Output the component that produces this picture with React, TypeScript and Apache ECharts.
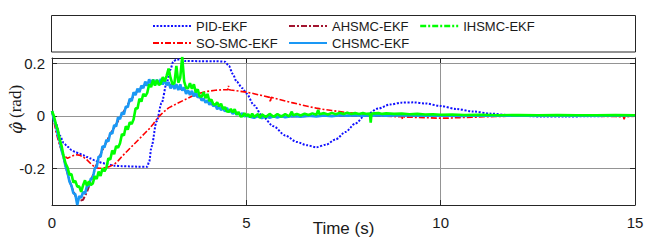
import React, { useEffect, useRef } from "react";
import * as echarts from "echarts";

// ---------- data ----------
const SERIES_NAMES = ["PID-EKF", "SO-SMC-EKF", "AHSMC-EKF", "CHSMC-EKF", "IHSMC-EKF"];
const X_MIN = 0;
const X_MAX = 15;
const X_INTERVAL = 5;
const Y_MIN = -0.34;
const Y_MAX = 0.22;
const Y_STEP = 0.2;

const pid: number[][] = [
  [0, 0.018], [0.1, -0.03], [0.2, -0.075], [0.3, -0.103], [0.4, -0.118], [0.5, -0.13], [0.6, -0.138],
  [0.7, -0.144], [0.8, -0.15], [0.9, -0.157], [1.0, -0.163], [1.1, -0.17], [1.2, -0.176], [1.3, -0.18],
  [1.4, -0.184], [1.6, -0.19], [1.8, -0.192], [2.0, -0.193], [2.2, -0.194], [2.45, -0.194], [2.5, -0.175],
  [2.56, -0.118], [2.69, -0.022], [2.82, 0.048], [2.95, 0.124], [3.04, 0.174], [3.12, 0.206], [3.2, 0.214],
  [3.35, 0.214], [3.42, 0.209], [3.8, 0.208], [4.2, 0.208], [4.45, 0.206], [4.55, 0.19], [4.65, 0.16],
  [4.75, 0.13], [4.9, 0.105], [5.0, 0.085], [5.2, 0.04], [5.4, 0.0], [5.7, -0.04], [6.0, -0.075],
  [6.3, -0.1], [6.55, -0.112], [6.8, -0.12], [7.05, -0.11], [7.3, -0.09], [7.55, -0.062], [7.8, -0.03],
  [8.05, 0.0], [8.4, 0.028], [8.7, 0.043], [9.0, 0.05], [9.3, 0.051], [9.6, 0.047], [10.0, 0.037],
  [10.4, 0.026], [10.84, 0.016], [11.3, 0.008], [11.7, 0.003], [12.2, -0.001], [12.6, -0.003],
  [13.2, -0.003], [13.8, -0.002], [14.4, -0.001], [15, 0.0],
];

const soSmc: number[][] = [
  [0, 0.018], [0.1, -0.06], [0.2, -0.115], [0.3, -0.15], [0.4, -0.162], [0.5, -0.155], [0.6, -0.148],
  [0.7, -0.15], [0.8, -0.156], [0.9, -0.168], [1.0, -0.183], [1.1, -0.195], [1.2, -0.2], [1.3, -0.2],
  [1.4, -0.197], [1.5, -0.192], [1.6, -0.185], [1.7, -0.172], [1.8, -0.155], [1.9, -0.14], [2.0, -0.125],
  [2.1, -0.11], [2.2, -0.095], [2.3, -0.08], [2.4, -0.065], [2.5, -0.05], [2.6, -0.032], [2.7, -0.012],
  [2.8, 0.004], [2.9, 0.018], [3.0, 0.03], [3.2, 0.045], [3.4, 0.06], [3.6, 0.074], [3.8, 0.086],
  [4.0, 0.093], [4.2, 0.097], [4.4, 0.099], [4.52, 0.099], [4.54, 0.114], [4.56, 0.099], [4.6, 0.098],
  [4.8, 0.094], [5.0, 0.09], [5.2, 0.084], [5.4, 0.077], [5.6, 0.07], [5.62, 0.052], [5.64, 0.07],
  [5.8, 0.064], [6.0, 0.056], [6.2, 0.049], [6.4, 0.042], [6.6, 0.035], [6.8, 0.029], [7.0, 0.024],
  [7.2, 0.02], [7.4, 0.016], [7.6, 0.012], [7.8, 0.009], [8.0, 0.006], [8.2, 0.003], [8.4, 0.0],
  [8.6, -0.002], [8.8, -0.003], [9.0, -0.004], [9.02, -0.013], [9.04, -0.005], [9.3, -0.006],
  [9.6, -0.007], [9.9, -0.009], [10.2, -0.009], [10.5, -0.007], [10.8, -0.006], [11.1, -0.004],
  [11.4, -0.003], [11.7, -0.002], [12.0, -0.001], [12.5, 0.0], [13.0, -0.001], [13.5, -0.001],
  [14.0, -0.002], [14.5, -0.003], [14.7, -0.004], [14.72, -0.013], [14.74, -0.004], [15, -0.002],
];

const ahsmc: number[][] = [
  [0, 0.018], [0.1, -0.04], [0.2, -0.1], [0.3, -0.16], [0.4, -0.22], [0.5, -0.27], [0.6, -0.305],
  [0.7, -0.325], [0.8, -0.32], [0.9, -0.29], [1.0, -0.25], [1.1, -0.205], [1.2, -0.165], [1.3, -0.13],
  [1.4, -0.1], [1.5, -0.07], [1.6, -0.045], [1.7, -0.02], [1.8, 0.005], [1.9, 0.03], [2.0, 0.055],
  [2.2, 0.095], [2.4, 0.118], [2.6, 0.128], [2.8, 0.128], [3.0, 0.12], [3.2, 0.11], [3.4, 0.098],
  [3.6, 0.085], [3.8, 0.07], [4.0, 0.052], [4.2, 0.037], [4.4, 0.025], [4.6, 0.015], [4.8, 0.007],
  [5.0, 0.0], [5.5, -0.004], [6, -0.003], [7, 0.0], [8, 0.001], [10, 0.0], [15, 0.0],
];

// noisy traces: samples every 0.05 s from 0 to 5 s
const EARLY_STEP = 0.05;
const chsmcEarly: number[] = [
  0.018, -0.015, -0.036, -0.072, -0.098, -0.134, -0.158, -0.193, -0.217, -0.251,
  -0.266, -0.295, -0.299, -0.34, -0.306, -0.313, -0.29, -0.297, -0.267, -0.267,
  -0.239, -0.238, -0.2, -0.195, -0.155, -0.156, -0.116, -0.121, -0.092, -0.098,
  -0.065, -0.068, -0.035, -0.041, -0.006, -0.013, 0.013, 0.005, 0.035, 0.033,
  0.065, 0.056, 0.089, 0.079, 0.103, 0.09, 0.115, 0.105, 0.13, 0.114,
  0.139, 0.122, 0.138, 0.118, 0.137, 0.121, 0.14, 0.119, 0.139, 0.116,
  0.128, 0.104, 0.12, 0.102, 0.12, 0.098, 0.119, 0.096, 0.108, 0.083,
  0.097, 0.079, 0.095, 0.073, 0.092, 0.069, 0.078, 0.058, 0.066, 0.05,
  0.059, 0.042, 0.054, 0.036, 0.043, 0.025, 0.035, 0.021, 0.032, 0.016,
  0.03, 0.015, 0.019, 0.007, 0.014, 0.004, 0.012, 0.001, 0.01, -0.002,
  0.0,
];
const chsmcLate: number[][] = [
  [5.1, -0.004], [5.2, -0.008], [5.3, -0.001], [5.4, -0.009], [5.5, -0.002], [5.6, -0.008],
  [5.7, -0.002], [5.8, -0.007], [5.9, -0.001], [6.0, -0.006], [6.2, -0.001], [6.4, -0.004],
  [6.6, 0.0], [6.8, -0.003], [7.0, 0.001], [7.2, -0.002], [7.4, 0.002], [7.6, 0.0], [7.8, 0.002],
  [8.0, 0.0], [8.3, 0.002], [8.6, 0.0], [9.0, 0.002], [9.5, 0.0], [10, 0.001], [10.5, -0.001],
  [11, 0.001], [12, 0.0], [13, 0.001], [14, 0.0], [15, 0.001],
];

const ihsmcEarly: number[] = [
  0.018, -0.002, -0.032, -0.054, -0.091, -0.117, -0.155, -0.182, -0.197, -0.225,
  -0.222, -0.254, -0.248, -0.27, -0.269, -0.29, -0.265, -0.246, -0.267, -0.25,
  -0.264, -0.258, -0.23, -0.241, -0.213, -0.229, -0.2, -0.212, -0.198, -0.162,
  -0.167, -0.132, -0.146, -0.115, -0.122, -0.105, -0.07, -0.075, -0.04, -0.053,
  -0.025, -0.032, -0.013, 0.028, 0.028, 0.065, 0.054, 0.084, 0.074, 0.087,
  0.12, 0.109, 0.137, 0.115, 0.136, 0.117, 0.122, 0.147, 0.131, 0.153,
  0.18, 0.144, 0.121, 0.123, 0.19, 0.126, 0.145, 0.225, 0.131, 0.106,
  0.105, 0.124, 0.103, 0.12, 0.089, 0.101, 0.074, 0.072, 0.09, 0.067,
  0.083, 0.056, 0.062, 0.044, 0.042, 0.051, 0.036, 0.046, 0.025, 0.033,
  0.016, 0.015, 0.026, 0.013, 0.025, 0.005, 0.014, -0.003, -0.002, 0.01,
  -0.001,
];
const ihsmcLate: number[][] = [
  [5.05, 0.006], [5.1, -0.006], [5.15, 0.008], [5.2, -0.004], [5.3, 0.006], [5.35, -0.008],
  [5.4, 0.005], [5.5, -0.005], [5.6, 0.007], [5.7, -0.004], [5.8, 0.006], [5.9, -0.003],
  [6.0, 0.006], [6.1, -0.002], [6.17, 0.016], [6.2, 0.002], [6.3, 0.007], [6.4, 0.001],
  [6.5, 0.008], [6.6, 0.003], [6.7, 0.009], [6.8, 0.004], [6.85, 0.022], [6.88, 0.006],
  [7.0, 0.01], [7.1, 0.005], [7.2, 0.011], [7.3, 0.006], [7.4, 0.011], [7.5, 0.007],
  [7.6, 0.011], [7.7, 0.007], [7.8, 0.01], [7.9, 0.007], [8.0, 0.01], [8.1, 0.007],
  [8.18, 0.008], [8.2, -0.026], [8.22, 0.008], [8.4, 0.01], [8.5, 0.007], [8.6, 0.009],
  [8.8, 0.007], [9.0, 0.008], [9.2, 0.006], [9.4, 0.007], [9.6, 0.005], [9.8, 0.006],
  [10.0, 0.004], [10.3, 0.005], [10.6, 0.003], [11.0, 0.004], [11.5, 0.002], [12, 0.003],
  [12.5, 0.002], [13, 0.003], [13.5, 0.002], [14, 0.002], [14.5, 0.003], [15, 0.002],
];

const toPairs = (vals: number[], step: number) =>
  vals.map((v, i) => [Math.round(i * step * 1000) / 1000, v]);

const COLORS = {
  pid: "#1010ff",
  so: "#ff0000",
  ah: "#a2142f",
  ch: "#1a98f5",
  ih: "#00ff00",
};

const FONT = "'Liberation Sans', Arial, Helvetica, sans-serif";
const SERIF = "'Liberation Serif', 'Times New Roman', serif";
const TEXT = "#1a1a1a";

export default function App() {
  const ref = useRef<HTMLDivElement>(null);

  useEffect(() => {
    document.body.style.margin = "0";
    if (!ref.current) return;
    const chart = echarts.init(ref.current, undefined, { renderer: "svg" });

    const dashDot = [6, 2, 2, 2];

    const legendPos: Record<string, [number, number]> = {
      "PID-EKF": [152, 19],
      "AHSMC-EKF": [288, 19],
      "IHSMC-EKF": [419, 19],
      "SO-SMC-EKF": [152, 36],
      "CHSMC-EKF": [288, 36],
    };

    const legends = Object.keys(legendPos).map((name) => ({
      data: [name],
      left: legendPos[name][0],
      top: legendPos[name][1],
      padding: 0,
      itemWidth: 38,
      itemHeight: 14,
      selectedMode: false,
      itemStyle: { opacity: 0 },
      ...(name === "IHSMC-EKF" ? { lineStyle: { type: dashDot, width: 2.4 } } : {}),
      textStyle: { fontSize: 13, fontFamily: FONT, color: TEXT, lineHeight: 14 },
    }));

    const axisCommonX = {
      type: "value" as const,
      min: X_MIN,
      max: X_MAX,
      interval: X_INTERVAL,
    };
    const axisCommonY = {
      type: "value" as const,
      min: Y_MIN,
      max: Y_MAX,
      minInterval: Y_STEP,
      maxInterval: Y_STEP,
    };

    const option: any = {
      animation: false,
      backgroundColor: "#ffffff",
      legend: legends,
      grid: {
        left: 52,
        right: 11,
        top: 58,
        bottom: 37,
        containLabel: false,
        outerBoundsMode: "none",
      },
      xAxis: [
        {
          ...axisCommonX,
          position: "bottom",
          name: "Time (s)",
          nameLocation: "middle",
          nameGap: 15,
          nameMoveOverlap: false,
          nameTextStyle: { fontSize: 17, fontFamily: FONT, color: TEXT },
          axisLine: { show: true, onZero: false, lineStyle: { color: "#262626", width: 1 } },
          axisTick: { show: true, inside: true, length: 5, lineStyle: { color: "#262626" } },
          axisLabel: { fontSize: 15, fontFamily: FONT, color: TEXT, margin: 10 },
          splitLine: { show: true, lineStyle: { color: "#949494", width: 1 } },
        },
        {
          ...axisCommonX,
          position: "top",
          axisLine: { show: true, onZero: false, lineStyle: { color: "#262626", width: 1 } },
          axisTick: { show: true, inside: true, length: 5, lineStyle: { color: "#262626" } },
          axisLabel: { show: false },
          splitLine: { show: false },
        },
      ],
      yAxis: [
        {
          ...axisCommonY,
          position: "left",
          name: "{a|\u03C6\u0302} (rad)",
          nameLocation: "middle",
          nameRotate: 90,
          nameGap: 28,
          nameMoveOverlap: false,
          nameTextStyle: {
            fontSize: 17,
            fontFamily: SERIF,
            color: TEXT,
            padding: [0, 0, 0, 44],
            rich: {
              a: {
                fontSize: 17,
                fontStyle: "italic",
                fontFamily: "'DejaVu Serif', serif",
                color: TEXT,
              },
            },
          },
          axisLine: { show: true, onZero: false, lineStyle: { color: "#262626", width: 1 } },
          axisTick: { show: true, inside: true, length: 5, lineStyle: { color: "#262626" } },
          axisLabel: {
            fontSize: 15,
            fontFamily: FONT,
            color: TEXT,
            margin: 7,
            showMinLabel: false,
            showMaxLabel: false,
          },
          splitLine: { show: true, lineStyle: { color: "#949494", width: 1 } },
        },
        {
          ...axisCommonY,
          position: "right",
          axisLine: { show: true, onZero: false, lineStyle: { color: "#262626", width: 1 } },
          axisTick: { show: true, inside: true, length: 5, lineStyle: { color: "#262626" } },
          axisLabel: { show: false },
          splitLine: { show: false },
        },
      ],
      graphic: [
        {
          type: "rect",
          z: -1,
          shape: { x: 51.5, y: 15.5, width: 584, height: 36.5 },
          style: { fill: "none", stroke: "#262626", lineWidth: 1 },
          silent: true,
        },
      ],
      series: [
        {
          name: SERIES_NAMES[0],
          type: "line",
          data: pid,
          symbol: "none",
          smooth: 0.3,
          smoothMonotone: "x",
          color: COLORS.pid,
          lineStyle: { color: COLORS.pid, width: 2, type: [2, 1.6] },
          emphasis: { disabled: true },
          z: 2,
        },
        {
          name: SERIES_NAMES[1],
          type: "line",
          data: soSmc,
          symbol: "none",
          color: COLORS.so,
          lineStyle: { color: COLORS.so, width: 1.6, type: dashDot },
          emphasis: { disabled: true },
          z: 3,
        },
        {
          name: SERIES_NAMES[2],
          type: "line",
          data: ahsmc,
          symbol: "none",
          color: COLORS.ah,
          lineStyle: { color: COLORS.ah, width: 2, type: dashDot },
          emphasis: { disabled: true },
          z: 4,
        },
        {
          name: SERIES_NAMES[3],
          type: "line",
          data: [...toPairs(chsmcEarly, EARLY_STEP), ...chsmcLate],
          symbol: "none",
          color: COLORS.ch,
          lineStyle: { color: COLORS.ch, width: 2.6 },
          emphasis: { disabled: true },
          z: 5,
        },
        {
          name: SERIES_NAMES[4],
          type: "line",
          data: [...toPairs(ihsmcEarly, EARLY_STEP), ...ihsmcLate],
          symbol: "none",
          color: COLORS.ih,
          lineStyle: { color: COLORS.ih, width: 2.6 },
          emphasis: { disabled: true },
          z: 6,
        },
      ],
    };

    chart.setOption(option);
    return () => {
      chart.dispose();
    };
  }, []);

  return <div ref={ref} style={{ width: 646, height: 242 }} />;
}
